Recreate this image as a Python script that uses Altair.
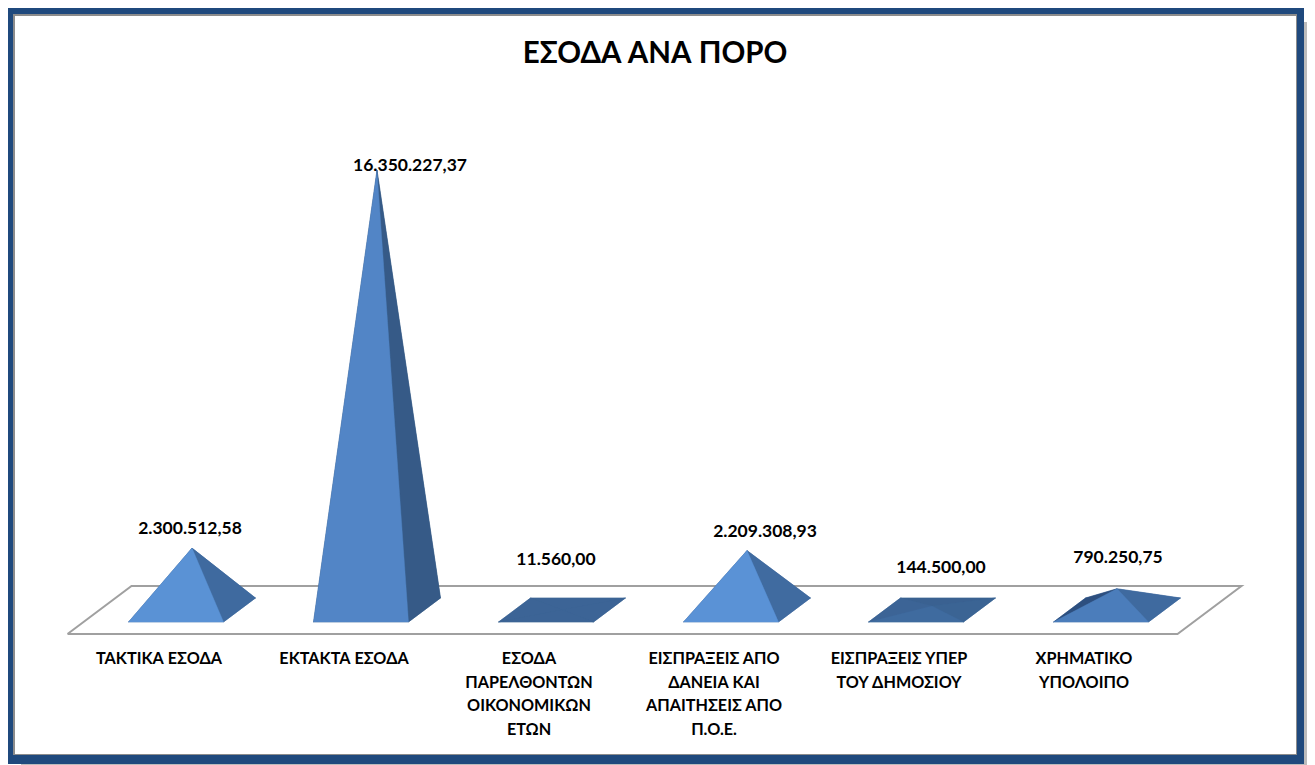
import altair as alt
import pandas as pd

# ---- chart values ----
CATEGORIES = [
    "ΤΑΚΤΙΚΑ ΕΣΟΔΑ",
    "ΕΚΤΑΚΤΑ  ΕΣΟΔΑ",
    "ΕΣΟΔΑ\nΠΑΡΕΛΘΟΝΤΩΝ\nΟΙΚΟΝΟΜΙΚΩΝ\nΕΤΩΝ",
    "ΕΙΣΠΡΑΞΕΙΣ ΑΠΟ\nΔΑΝΕΙΑ ΚΑΙ\nΑΠΑΙΤΗΣΕΙΣ ΑΠΌ\nΠ.Ο.Ε.",
    "ΕΙΣΠΡΑΞΕΙΣ ΥΠΕΡ\nΤΟΥ ΔΗΜΟΣΙΟΥ",
    "ΧΡΗΜΑΤΙΚΟ\nΥΠΟΛΟΙΠΟ",
]
VALUES = [2300512.58, 16350227.37, 11560.00, 2209308.93, 144500.00, 790250.75]
VALUE_LABELS = ["2.300.512,58", "16.350.227,37", "11.560,00",
                "2.209.308,93", "144.500,00", "790.250,75"]
TITLE = "ΕΣΟΔΑ ΑΝΑ ΠΟΡΟ"

# ---- styles ----
FRONT = ["#5a92d5", "#5285c6", "#3c6496", "#5a92d6", "#3f6b9f", "#4b7dbb"]
RIGHT = ["#3f6a9f", "#365a87", "#3c6496", "#406ba0", "#3b6494", "#3f6a9f"]
BACK = ["#3f6a9f", "#365a87", "#3c6496", "#406ba0", "#3a6191", "#3f6a9f"]
LEFT = ["#3a6191", "#32547f", "#3c6496", "#3a6191", "#3c6496", "#2d4f7f"]
FONT = "Lato"
W, H = 1299, 757
PX_PER_UNIT_X = 185.0
PX_PER_VALUE = 26.9e-6
ORIGIN_X, ORIGIN_Y = 184.0, 602.0   # svg pixels of category 0 / value 0
DX_DEPTH = 32.0 / PX_PER_UNIT_X
DY_DEPTH = 24.0 / PX_PER_VALUE
HALF_W = 47.5 / PX_PER_UNIT_X
# shifts of the data labels from the apex, in pixels
LABEL_SHIFT_PX = [(-2, 19), (33, 4), (-6, 50), (18, 19), (9, 38), (1, 31)]
CAT_SHIFT_PX = -33.0
CAT_DROP_PX = 41.0

x_scale = alt.Scale(domain=[-ORIGIN_X / PX_PER_UNIT_X, (W - ORIGIN_X) / PX_PER_UNIT_X], nice=False, zero=False)
y_scale = alt.Scale(domain=[(ORIGIN_Y - H) / PX_PER_VALUE, ORIGIN_Y / PX_PER_VALUE], nice=False, zero=False)


def project(c, d, v):
    return c + d * DX_DEPTH, v + d * DY_DEPTH


def triangle_rows(pid, pts, colour):
    a, b, c = sorted(pts)
    t = (b[0] - a[0]) / (c[0] - a[0]) if c[0] != a[0] else 0
    long_y = a[1] + t * (c[1] - a[1])
    return [dict(pid=pid, x=x, y=y1, y2=y2, colour=colour)
            for x, y1, y2 in [(a[0], a[1], a[1]), (b[0], b[1], long_y), (c[0], c[1], c[1])]]


def base_rows(pid, fl, fr, bl, br, colour):
    return [dict(pid=pid, x=x, y=y1, y2=y2, colour=colour)
            for x, y1, y2 in [(fl[0], fl[1], fl[1]), (bl[0], bl[1], fl[1]),
                              (fr[0], br[1], fr[1]), (br[0], br[1], br[1])]]


faces = []
for i, v in enumerate(VALUES):
    fl = project(i - HALF_W, -0.5, 0)
    fr = project(i + HALF_W, -0.5, 0)
    bl = project(i - HALF_W, 0.5, 0)
    br = project(i + HALF_W, 0.5, 0)
    apex = project(i, 0, v)
    faces += base_rows(f"{i}u", fl, fr, bl, br, RIGHT[i])
    faces += triangle_rows(f"{i}b", [bl, br, apex], BACK[i])
    faces += triangle_rows(f"{i}l", [fl, bl, apex], LEFT[i])
    faces += triangle_rows(f"{i}r", [fr, br, apex], RIGHT[i])
    faces += triangle_rows(f"{i}f", [fl, fr, apex], FRONT[i])
faces = pd.DataFrame(faces)
pids = list(dict.fromkeys(faces["pid"]))

x_enc = alt.X("x:Q", scale=x_scale, axis=None)
y_enc = alt.Y("y:Q", scale=y_scale, axis=None)

face_layers = [
    alt.Chart(faces[faces.pid == p]).mark_area(
        color=faces[faces.pid == p].colour.iloc[0], opacity=1,
        stroke=faces[faces.pid == p].colour.iloc[0], strokeWidth=0.4
    ).encode(x=x_enc, y=y_enc, y2="y2:Q")
    for p in pids
]

# floor
n = len(VALUES)
corner_pts = [project(-0.5, -1, 0), project(n - 0.5, -1, 0), project(n - 0.5, 1, 0),
              project(-0.5, 1, 0), project(-0.5, -1, 0)]
floor = pd.DataFrame([dict(x=p[0], y=p[1], o=k) for k, p in enumerate(corner_pts)])
floor_layer = alt.Chart(floor).mark_line(color="#a0a0a0", strokeWidth=2).encode(
    x=x_enc, y=y_enc, order="o:Q")

# value labels
lab = pd.DataFrame(dict(
    x=[i + s[0] / PX_PER_UNIT_X for i, s in enumerate(LABEL_SHIFT_PX)],
    y=[v + s[1] / PX_PER_VALUE for v, s in zip(VALUES, LABEL_SHIFT_PX)],
    t=VALUE_LABELS))
lab_layer = alt.Chart(lab).mark_text(font=FONT, fontWeight="bold", fontSize=17.5, color="#000000",
                                     baseline="middle", align="center").encode(x=x_enc, y=y_enc, text="t:N")

# category labels
cat = pd.DataFrame(dict(
    x=[i + CAT_SHIFT_PX / PX_PER_UNIT_X for i in range(n)],
    y=[-CAT_DROP_PX / PX_PER_VALUE] * n,
    t=CATEGORIES))
cat_layer = alt.Chart(cat).mark_text(font=FONT, fontWeight="bold", fontSize=16.2, color="#000000",
                                     baseline="top", align="center", lineBreak="\n", lineHeight=23.5).encode(
    x=x_enc, y=y_enc, text="t:N")


def box(x1, x2, y1, y2, **kw):
    return alt.Chart(pd.DataFrame({"a": [0]})).mark_rect(**kw).encode(
        x=alt.value(x1), x2=alt.value(x2), y=alt.value(y1), y2=alt.value(y2))


frame = [
    box(1296, W, 14, H, color="#bcbcbc"),
    box(13, W, 756, H, color="#bcbcbc"),
    box(-3, 1296, -2, 756, color="#1f497d"),
    box(5, 1289, 6, 747, color="#8c8c8c"),
    box(7, 1288, 8, 746, color="#ffffff"),
]

title_layer = alt.Chart(pd.DataFrame({"t": [TITLE]})).mark_text(
    font=FONT, fontWeight="bold", fontSize=29.5, color="#000000", align="center", baseline="middle"
).encode(x=alt.value(647), y=alt.value(46), text="t:N")

chart = alt.layer(*frame, title_layer, floor_layer, *face_layers, lab_layer, cat_layer).properties(
    width=W, height=H, padding=0, autosize=alt.AutoSizeParams(type="none"), background="#ffffff"
).configure_view(stroke=None)

chart.save("out.html", embed_options={"renderer": "svg", "actions": False})
